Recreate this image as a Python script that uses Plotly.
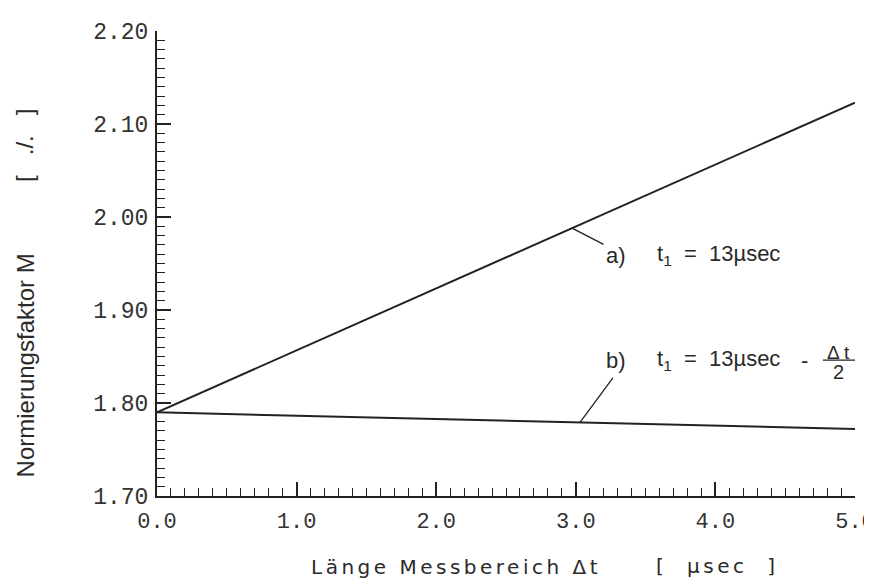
import numpy as np
import plotly.graph_objects as go

# ---- data ----
x_dt = [0.0, 5.0]                      # Länge Messbereich Δt [µsec]
m_a = [1.790, 2.123]                   # a) t1 = 13 µsec
m_b = [1.790, 1.772]                   # b) t1 = 13 µsec - Δt/2
x_ticks = [0.0, 1.0, 2.0, 3.0, 4.0, 5.0]
x_ticklabels = ["0.0", "1.0", "2.0", "3.0", "4.0", "5.0"]
y_ticks = [1.70, 1.80, 1.90, 2.00, 2.10, 2.20]
y_ticklabels = ["1.70", "1.80", "1.90", "2.00", "2.10", "2.20"]

INK = "#222222"
TICKFONT = dict(family="Liberation Mono, DejaVu Sans Mono, monospace", size=23, color="#333333")
XTICKFONT = TICKFONT | dict(size=22)
LBLFONT = dict(family="Liberation Sans, Arial, sans-serif", size=22, color="#2a2a2a")
YTITLEFONT = dict(family="Liberation Sans, Arial, sans-serif", size=24, color="#2a2a2a")
XTITLEFONT = dict(family="DejaVu Sans, Liberation Sans, sans-serif", size=20, color="#2a2a2a")

fig = go.Figure()
fig.add_trace(go.Scatter(x=x_dt, y=m_a, mode="lines", line=dict(color=INK, width=2),
                         showlegend=False, hoverinfo="skip"))
fig.add_trace(go.Scatter(x=x_dt, y=m_b, mode="lines", line=dict(color=INK, width=2),
                         showlegend=False, hoverinfo="skip"))

# leader lines, anchored on the curves (arrow without head, pixel offsets)
xa = 2.973
ya = float(np.interp(xa, x_dt, m_a))
xb = 3.03
yb = float(np.interp(xb, x_dt, m_b))
for (xx, yy, ax, ay) in [(xa, ya, 33, 17), (xb, yb, 34, -46)]:
    fig.add_annotation(x=xx, y=yy, xref="x", yref="y", text="", showarrow=True,
                       arrowhead=0, arrowwidth=1.3, arrowcolor=INK, ax=ax, ay=ay, standoff=0)

# labels for the curves
fig.add_annotation(x=3.29, y=1.959, xref="x", yref="y", text="a)", showarrow=False, font=LBLFONT)
fig.add_annotation(x=3.567, y=1.959, xref="x", yref="y", text="t<sub>1</sub>  =  13µsec",
                   showarrow=False, font=LBLFONT, xanchor="left", yanchor="middle")
fig.add_annotation(x=3.29, y=1.846, xref="x", yref="y", text="b)", showarrow=False, font=LBLFONT)
fig.add_annotation(x=3.567, y=1.846, xref="x", yref="y", text="t<sub>1</sub>  =  13µsec",
                   showarrow=False, font=LBLFONT, xanchor="left", yanchor="middle")
fig.add_annotation(x=4.64, y=1.846, xref="x", yref="y", text="-", showarrow=False, font=LBLFONT)
fig.add_annotation(x=4.885, y=1.8545, xref="x", yref="y", text="Δ t", showarrow=False,
                   font=LBLFONT | dict(size=19), yanchor="middle")
fig.add_annotation(x=4.885, y=1.8335, xref="x", yref="y", text="2", showarrow=False,
                   font=LBLFONT | dict(size=20), yanchor="middle")
fig.add_shape(type="line", xref="x", yref="y", x0=4.77, x1=5.0, y0=1.846, y1=1.846,
              line=dict(color=INK, width=1.3))

# axis titles
sp = "letter-spacing:3.5px"
fig.add_annotation(x=2.142, y=-0.1535, xref="x", yref="paper",
                   text=f"<span style='{sp}'>Länge Messbereich Δt</span>",
                   showarrow=False, font=XTITLEFONT, xanchor="center", yanchor="middle")
fig.add_annotation(x=4.01, y=-0.15, xref="x", yref="paper",
                   text=f"<span style='{sp}'>[  µsec  ]</span>",
                   showarrow=False, font=XTITLEFONT, xanchor="center", yanchor="middle")
fig.add_annotation(x=-0.189, y=0.281, xref="paper", yref="paper", text="Normierungsfaktor M",
                   showarrow=False, font=YTITLEFONT, textangle=-90, xanchor="center", yanchor="middle")
fig.add_annotation(x=-0.189, y=0.753, xref="paper", yref="paper", text="[   ./.   ]",
                   showarrow=False, font=YTITLEFONT, textangle=-90, xanchor="center", yanchor="middle")

fig.update_xaxes(range=[0, 5], tickvals=x_ticks, ticktext=x_ticklabels,
                 showline=True, linecolor=INK, linewidth=2, mirror=False,
                 ticks="inside", ticklen=14, tickwidth=1.5, tickcolor=INK,
                 minor=dict(dtick=0.1, ticks="inside", ticklen=8, tickwidth=1.3, tickcolor=INK, showgrid=False),
                 showgrid=False, zeroline=False, tickfont=XTICKFONT, ticklabelstandoff=4)
fig.update_yaxes(range=[1.70, 2.20], tickvals=y_ticks, ticktext=y_ticklabels,
                 showline=True, linecolor=INK, linewidth=2, mirror=False,
                 ticks="inside", ticklen=14, tickwidth=1.5, tickcolor=INK,
                 minor=dict(dtick=0.01, ticks="inside", ticklen=8, tickwidth=1.3, tickcolor=INK, showgrid=False),
                 showgrid=False, zeroline=False, tickfont=TICKFONT, ticklabelstandoff=2)

# the page body adds an 8px offset; the div is wider than the window so the
# plot area (157..855 x 27..496 in the window) matches the reference
fig.update_layout(width=890, height=578, margin=dict(l=149, r=43, t=19, b=90),
                  paper_bgcolor="white", plot_bgcolor="white")
fig.write_html("out.html")
